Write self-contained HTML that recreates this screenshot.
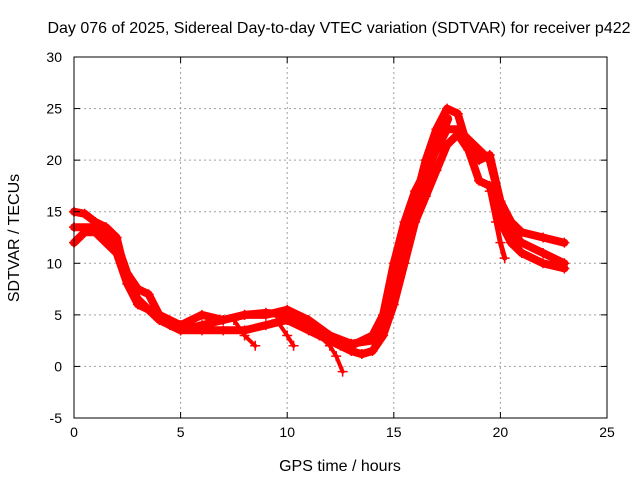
<!DOCTYPE html>
<html><head><meta charset="utf-8"><style>
body{margin:0;background:#fff;}
svg{display:block;font-family:"Liberation Sans",sans-serif;}
</style></head><body>
<svg id="chart" width="640" height="480" xmlns="http://www.w3.org/2000/svg">
<rect width="640" height="480" fill="#fff"/>
<text x="339" y="33" font-size="16" text-anchor="middle">Day 076 of 2025, Sidereal Day-to-day VTEC variation (SDTVAR) for receiver p422</text>
<text x="340" y="471" font-size="16" text-anchor="middle">GPS time / hours</text>
<text transform="translate(19,238) rotate(-90)" font-size="16" text-anchor="middle">SDTVAR / TECUs</text>
<g id="grid"></g><g id="series"></g><g id="axes"></g>
</svg>
<script>
const xTicks=[0,5,10,15,20,25];
const yTicks=[-5,0,5,10,15,20,25,30];
const trackA_t=[0,0.5,1,1.5,2,2.3,2.6,3,3.5,4,4.5,5,6,7,8,9,10,11,12,13,14,14.5,15,15.5,16,16.5,17,17.5,18,18.5,19,19.5,20,20.5,21,22,23];
const trackA_v=[15,14.8,14,13.5,12.5,10,8,6.5,5.5,5,4,3.5,4,4.5,5,5.2,5,4,3,2.2,2.5,4,8,12,16,20,23,25,24.5,21,20,20.5,16,14,13,12.5,12];
const trackB_t=[0,0.5,1,1.5,2,2.5,3,3.5,4,5,6,7,8,9,10,11,12,12.5,13,13.5,14,14.5,15,15.5,16,16.5,17,17.5,18,18.5,19,19.5,20,20.5,21,22,23];
const trackB_v=[12,13,13,12,11,8,6,5.5,4.5,3.5,3.5,3.5,3.5,4,4.5,3.5,2.5,2,1.5,1.2,1.5,3,6,10,14,16.5,19,21.5,22.5,21,18,17.5,14,12,11,10,9.5];
const trackC_t=[0,1,1.5,2,2.5,3,3.5,4,5,6,7,8,9,10,11,12,13,14,14.5,15,15.5,16,16.5,17,17.5,18,18.5,19,19.5,20,20.5,21,22,23];
const trackC_v=[13.5,13.5,13,12,9,7.5,7,5,4,5,4.5,5,5,5.5,4.5,3,2,3,5,10,14,17,19,21,23,23,22,21,20,16,13,12,11,10];
const trackD_t=[14.5,15,15.5,16,16.5,17,17.5];
const trackD_v=[4,9,13,16,18.5,21.5,24];
const branch1_t=[11,11.5,12,12.3,12.6];
const branch1_v=[4,3,2,1,-0.5];
const branch2_t=[19.5,19.8,20,20.2];
const branch2_v=[17,14,12,10.5];
const branch3_t=[7.5,8,8.5];
const branch3_v=[4.5,3,2];
const branch4_t=[9.5,10,10.3];
const branch4_v=[4.5,3,2];
const L=74,R=607,T=57,B=418;
const sx=v=>L+(v-0)/25*(R-L);
const sy=v=>B-(v+5)/35*(B-T);
const NS="http://www.w3.org/2000/svg";
function mk(tag,attrs,parent){const e=document.createElementNS(NS,tag);for(const k in attrs)e.setAttribute(k,attrs[k]);parent.appendChild(e);return e;}
const grid=document.getElementById('grid'),axes=document.getElementById('axes'),ser=document.getElementById('series');
xTicks.forEach(t=>{
 if(t>0&&t<25){const g=mk('line',{x1:sx(t),x2:sx(t),y1:T,y2:B,stroke:'#a0a0a0','stroke-dasharray':'2,3'},grid);
 
 }
 const tx=mk('text',{x:sx(t),y:B+19,'font-size':14,'text-anchor':'middle'},axes);tx.textContent=t;
 
 
 mk('line',{x1:sx(t),x2:sx(t),y1:B,y2:B-6,stroke:'#000'},axes);mk('line',{x1:sx(t),x2:sx(t),y1:T,y2:T+6,stroke:'#000'},axes);
});
yTicks.forEach(t=>{
 if(t>-5&&t<30){const g=mk('line',{x1:L,x2:R,y1:sy(t),y2:sy(t),stroke:'#a0a0a0','stroke-dasharray':'2,3'},grid);
 
 }
 const tx=mk('text',{x:L-12,y:sy(t)+5,'font-size':14,'text-anchor':'end'},axes);tx.textContent=t;
 
 
 mk('line',{x1:L,x2:L+6,y1:sy(t),y2:sy(t),stroke:'#000'},axes);mk('line',{x1:R,x2:R-6,y1:sy(t),y2:sy(t),stroke:'#000'},axes);
});
const frame=mk('rect',{x:L,y:T,width:R-L,height:B-T,fill:'none',stroke:'#000'},axes);


const tracks=[[trackA_t,trackA_v,8],[trackB_t,trackB_v,8],[trackC_t,trackC_v,8],[trackD_t,trackD_v,10],[branch1_t,branch1_v,4],[branch2_t,branch2_v,5],[branch3_t,branch3_v,4],[branch4_t,branch4_v,4]];
tracks.forEach(([ts,vs,w])=>{
 const d=ts.map((t,i)=>(i?'L':'M')+sx(t).toFixed(1)+','+sy(vs[i]).toFixed(1)).join('');
 const p=mk('path',{d:d,fill:'none',stroke:'#ff0000','stroke-width':w,'stroke-linejoin':'round','stroke-linecap':'round'},ser);
 
 
 ts.forEach((t,i)=>{const x=sx(t),y=sy(vs[i]);
  const m=mk('path',{d:`M${x-5},${y}h10M${x},${y-5}v10`,stroke:'#ff0000','stroke-width':1.5},ser);
  
  });
});
</script>
</body></html>
